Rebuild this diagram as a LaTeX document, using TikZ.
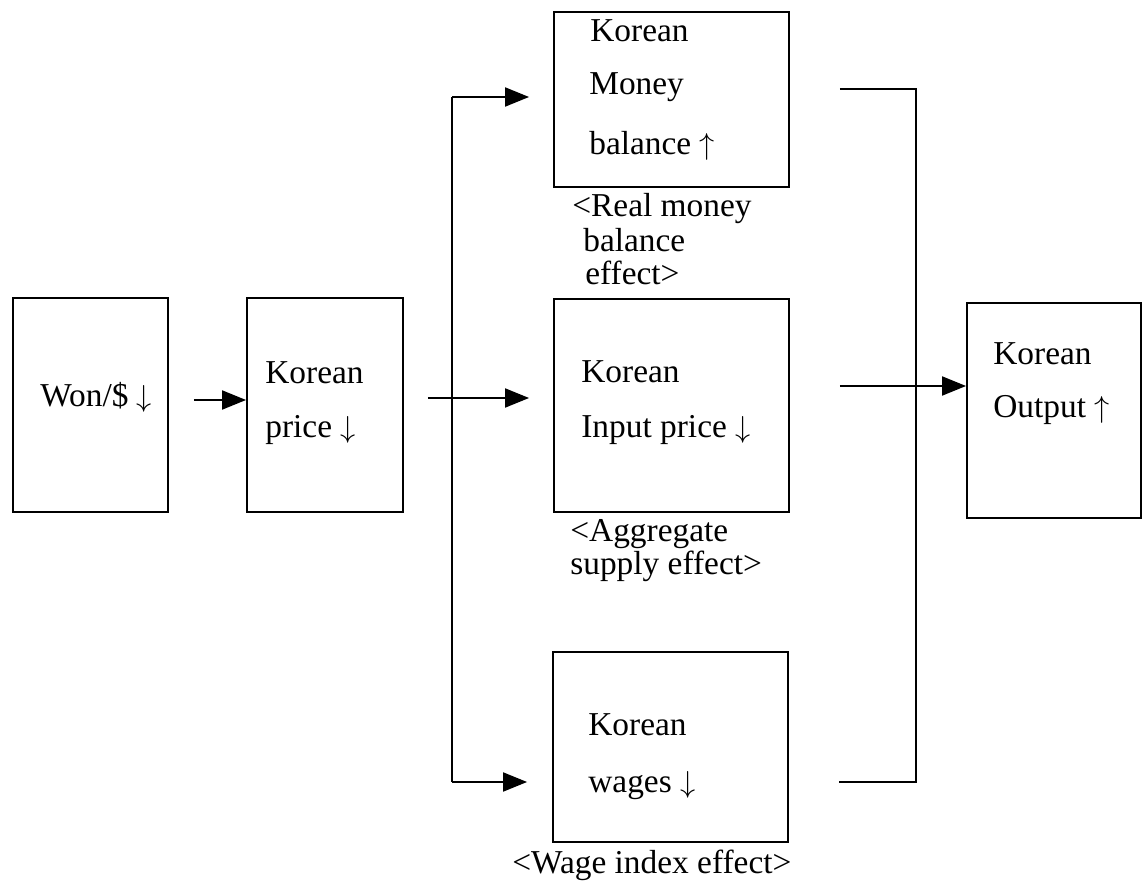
\documentclass[tikz,border=0pt]{standalone}
\usepackage{fontspec}
\setmainfont{Liberation Serif}
\usetikzlibrary{arrows.meta}

\begin{document}
\begin{tikzpicture}[x=0.02cm,y=-0.02cm,
  every node/.style={font=\fontsize{19}{23}\selectfont},
  box/.style={draw,line width=1.1pt,inner sep=0pt},
  lbl/.style={anchor=base west,inner sep=0pt},
  arr/.style={line width=1.1pt,-{Triangle[length=0.48cm,width=0.38cm]}}]
\useasboundingbox (0,0) rectangle (1143,881);
\node[box,minimum width=3.10cm,minimum height=4.28cm] (won) at (90.5,405) {};
\node[box,minimum width=3.12cm,minimum height=4.28cm] (price) at (325,405) {};
\node[box,minimum width=4.70cm,minimum height=3.50cm] (money) at (671.5,99.5) {};
\node[box,minimum width=4.70cm,minimum height=4.26cm] (input) at (671.5,405.5) {};
\node[box,minimum width=4.70cm,minimum height=3.80cm] (wage) at (670.5,747) {};
\node[box,minimum width=3.48cm,minimum height=4.30cm] (output) at (1054,410.5) {};
\node[lbl] (won1) at (40,407) {Won/\$ $\downarrow$};
\node[lbl] (price1) at (265,384) {Korean};
\node[lbl] (price2) at (265,438) {price $\downarrow$};
\node[lbl] (money1) at (590,42) {Korean};
\node[lbl] (money2) at (589,95) {Money};
\node[lbl] (money3) at (589,155) {balance $\uparrow$};
\node[lbl] (moneyfx1) at (572,217) {<Real money};
\node[lbl] (moneyfx2) at (583,252) {balance};
\node[lbl] (moneyfx3) at (585,285) {effect>};
\node[lbl] (input1) at (581,383) {Korean};
\node[lbl] (input2) at (581,438) {Input price $\downarrow$};
\node[lbl] (inputfx1) at (570,542) {<Aggregate};
\node[lbl] (inputfx2) at (570,575) {supply effect>};
\node[lbl] (wage1) at (588,735) {Korean};
\node[lbl] (wage2) at (588,792) {wages $\downarrow$};
\node[lbl] (wagefx) at (512,873) {<Wage index effect>};
\node[lbl] (output1) at (993,365) {Korean};
\node[lbl] (output2) at (993,418) {Output $\uparrow$};
\coordinate (splitT) at (452,97);
\coordinate (splitM) at (452,398);
\coordinate (splitB) at (452,782);
\coordinate (joinT) at (916,89);
\coordinate (joinM) at (916,386);
\coordinate (joinB) at (916,782);
\draw[arr,shorten <=0.5cm] ([yshift=0.1cm]won.east) -- ([yshift=0.1cm]price.west);
\draw[arr,shorten <=0.48cm,shorten >=0.48cm] (price.east |- splitM) -- (input.west |- splitM);
\draw[line width=1.1pt] (splitT) -- (splitB);
\draw[arr,shorten >=0.48cm] (splitT) -- (money.west |- splitT);
\draw[arr,shorten >=0.5cm] (splitB) -- (wage.west |- splitB);
\draw[line width=1.1pt,shorten <=1cm,shorten >=1cm] (money.east |- joinT) -- (joinT) -- (joinB) -- (wage.east |- joinB);
\draw[arr,shorten <=1cm] (input.east |- joinM) -- (output.west |- joinM);
\end{tikzpicture}
\end{document}
